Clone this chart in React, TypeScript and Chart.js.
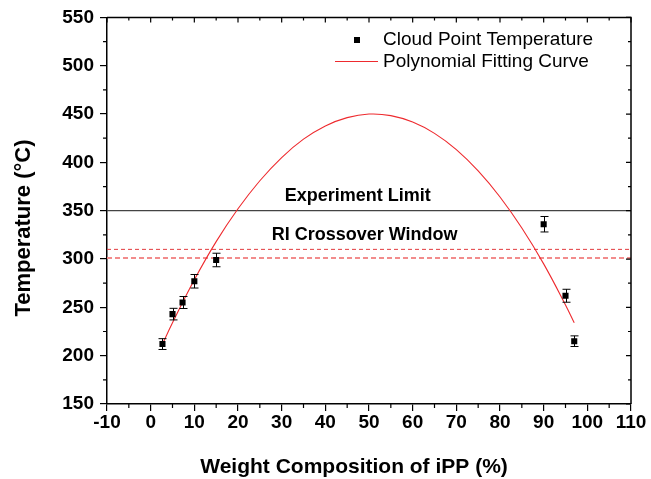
import React, { useEffect, useRef } from "react";
import { Chart, registerables } from "chart.js";
Chart.register(...registerables);

// ---- data ----
const compositions = [2.7, 5, 7.3, 10, 15, 90, 95, 97];
const cloudPoints = [212, 243, 255, 277, 299, 336, 262, 215];
const errors = [5.6, 6, 6.2, 7, 7, 8, 6.7, 5.5];
const fitX = [2.5, 5, 10, 15, 20, 25, 30, 35, 40, 45, 50, 55, 60, 65, 70, 75, 80, 85, 90, 95, 97];
const fitY = [210, 234, 278.5, 318, 352, 381, 405, 424, 437.7, 446.3, 450, 448.4, 441.7, 430, 413.2, 391.2, 364.2, 332.1, 295, 252.5, 234];
const experimentLimit = 350;
const windowUpper = 310;
const windowLower = 301;
const xMin = -10, xMax = 110, xStep = 10, xMinor = 5;
const yMin = 150, yMax = 550, yStep = 50, yMinor = 25;
const legendLabels = ["Cloud Point Temperature", "Polynomial Fitting Curve"];
const xTitle = "Weight Composition of iPP (%)";
const yTitle = "Temperature (\u00B0C)";
const limitLabel = "Experiment Limit";
const windowLabel = "RI Crossover Window";

const FONT = "'Liberation Sans', Arial, sans-serif";
const RED = "#ee2a2e";

const decorPlugin = {
  id: "decor",
  afterDatasetsDraw(chart: any) {
    const ctx = chart.ctx;
    const xs = chart.scales.x;
    const ys = chart.scales.y;
    ctx.save();
    ctx.strokeStyle = "#000";
    ctx.lineWidth = 1;
    compositions.forEach((cx, i) => {
      const px = Math.round(xs.getPixelForValue(cx)) + 0.5;
      const top = ys.getPixelForValue(cloudPoints[i] + errors[i]);
      const bot = ys.getPixelForValue(cloudPoints[i] - errors[i]);
      ctx.beginPath();
      ctx.moveTo(px, top);
      ctx.lineTo(px, bot);
      ctx.moveTo(px - 4, top);
      ctx.lineTo(px + 4, top);
      ctx.moveTo(px - 4, bot);
      ctx.lineTo(px + 4, bot);
      ctx.stroke();
    });
    ctx.restore();
  },
  afterDraw(chart: any) {
    const ctx = chart.ctx;
    const xs = chart.scales.x;
    const ys = chart.scales.y;
    const a = chart.chartArea;
    ctx.save();
    ctx.strokeStyle = "#000";
    ctx.lineWidth = 1.5;
    ctx.beginPath();
    ctx.moveTo(a.left, a.top);
    ctx.lineTo(a.right, a.top);
    ctx.lineTo(a.right, a.bottom);
    ctx.stroke();
    ctx.lineWidth = 1.2;
    ctx.beginPath();
    for (let v = xMin; v <= xMax + 1e-9; v += xMinor) {
      const p = xs.getPixelForValue(v);
      const major = Math.abs(((v - xMin) % xStep)) < 1e-6;
      if (!major) {
        ctx.moveTo(p, a.bottom);
        ctx.lineTo(p, a.bottom + 4);
      }
      ctx.moveTo(p, a.top);
      ctx.lineTo(p, a.top + (major ? 5 : 3));
    }
    for (let v = yMin; v <= yMax + 1e-9; v += yMinor) {
      const p = ys.getPixelForValue(v);
      const major = Math.abs(((v - yMin) % yStep)) < 1e-6;
      if (!major) {
        ctx.moveTo(a.left, p);
        ctx.lineTo(a.left - 4, p);
      }
      ctx.moveTo(a.right, p);
      ctx.lineTo(a.right - (major ? 5 : 3), p);
    }
    ctx.stroke();

    // annotations
    ctx.fillStyle = "#000";
    ctx.font = `bold 18px ${FONT}`;
    ctx.textAlign = "center";
    ctx.textBaseline = "middle";
    ctx.fillText(limitLabel, xs.getPixelForValue(47.4), ys.getPixelForValue(experimentLimit) - 15);
    ctx.fillText(windowLabel, xs.getPixelForValue(49), ys.getPixelForValue(windowUpper) - 14);

    // legend
    ctx.font = `19px ${FONT}`;
    ctx.textAlign = "left";
    ctx.fillRect(354, 37, 6, 6);
    ctx.fillText(legendLabels[0], 383, 40);
    ctx.strokeStyle = RED;
    ctx.lineWidth = 1;
    ctx.beginPath();
    ctx.moveTo(335, 61.5);
    ctx.lineTo(378, 61.5);
    ctx.stroke();
    ctx.fillText(legendLabels[1], 383, 62);

    // axis titles
    ctx.font = `bold 21px ${FONT}`;
    ctx.textAlign = "center";
    ctx.textBaseline = "alphabetic";
    ctx.fillText(xTitle, 354, 473);
    ctx.font = `bold 22px ${FONT}`;
    ctx.translate(30, 228);
    ctx.rotate(-Math.PI / 2);
    ctx.fillText(yTitle, 0, 0);
    ctx.restore();
  },
};

export default function App() {
  const ref = useRef<HTMLCanvasElement | null>(null);
  useEffect(() => {
    if (!ref.current) return;
    Chart.defaults.font.family = FONT;
    const chart = new Chart(ref.current, {
      type: "scatter",
      data: {
        datasets: [
          {
            label: legendLabels[0],
            data: compositions.map((x, i) => ({ x, y: cloudPoints[i] })),
            pointStyle: "rect",
            pointRadius: 4.3,
            backgroundColor: "#000",
            borderColor: "#000",
            borderWidth: 0,
            order: 0,
          },
          {
            label: legendLabels[1],
            data: fitX.map((x, i) => ({ x, y: fitY[i] })),
            showLine: true,
            pointRadius: 0,
            borderColor: RED,
            borderWidth: 1.1,
            tension: 0.4,
            order: 1,
          },
          {
            label: limitLabel,
            data: [{ x: xMin, y: experimentLimit }, { x: xMax, y: experimentLimit }],
            showLine: true,
            pointRadius: 0,
            borderColor: "#444",
            borderWidth: 1.3,
            order: 2,
          },
          {
            label: "upper",
            data: [{ x: xMin, y: windowUpper }, { x: xMax, y: windowUpper }],
            showLine: true,
            pointRadius: 0,
            borderColor: "#e23a3e",
            borderWidth: 1,
            borderDash: [4, 3],
            order: 3,
          },
          {
            label: "lower",
            data: [{ x: xMin, y: windowLower }, { x: xMax, y: windowLower }],
            showLine: true,
            pointRadius: 0,
            borderColor: "#f28c8c",
            borderWidth: 2,
            borderDash: [5, 3],
            order: 4,
          },
        ],
      },
      options: {
        animation: false,
        responsive: false,
        layout: { padding: { left: 0, top: 17, right: 20, bottom: 0 } },
        plugins: { legend: { display: false }, tooltip: { enabled: false } },
        scales: {
          x: {
            type: "linear",
            min: xMin,
            max: xMax,
            ticks: {
              stepSize: xStep,
              color: "#000",
              font: { size: 19, weight: "bold", family: FONT },
              padding: 0,
              maxRotation: 0,
              autoSkip: false,
            },
            grid: {
              display: true,
              drawOnChartArea: false,
              drawTicks: true,
              tickLength: 7,
              color: "#000",
              lineWidth: 1.2,
            },
            border: { display: true, color: "#000", width: 1.5 },
            afterFit: (s: any) => {
              s.height = 75;
            },
          },
          y: {
            type: "linear",
            min: yMin,
            max: yMax,
            ticks: {
              stepSize: yStep,
              color: "#000",
              font: { size: 19, weight: "bold", family: FONT },
              padding: 6,
            },
            grid: {
              display: true,
              drawOnChartArea: false,
              drawTicks: true,
              tickLength: 7,
              color: "#000",
              lineWidth: 1.2,
            },
            border: { display: true, color: "#000", width: 1.5 },
            afterFit: (s: any) => {
              s.width = 107;
            },
          },
        },
      },
      plugins: [decorPlugin],
    } as any);
    return () => chart.destroy();
  }, []);
  return (
    <div style={{ position: "absolute", left: 0, top: 0, width: 651, height: 479, background: "#fff" }}>
      <canvas ref={ref} width={651} height={479} style={{ display: "block" }} />
    </div>
  );
}
